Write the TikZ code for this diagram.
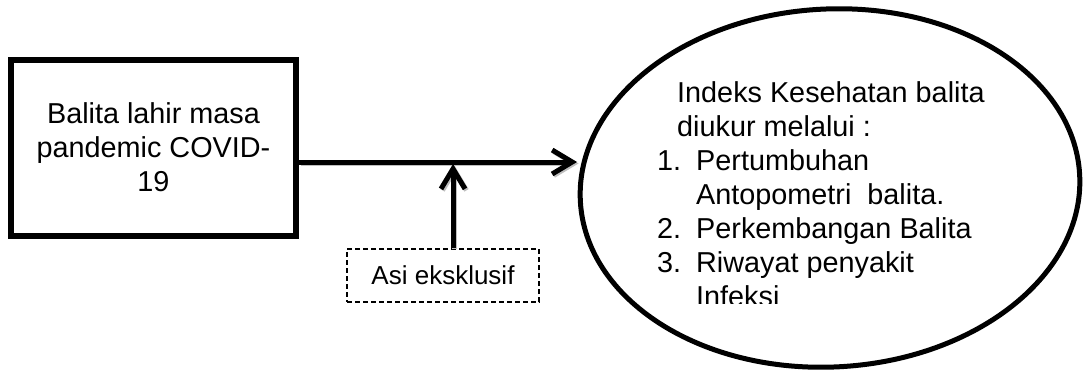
\documentclass[tikz,border=0pt]{standalone}
\usepackage{fontspec}
\setmainfont{Liberation Sans}
\usetikzlibrary{shapes.geometric,arrows.meta}
\begin{document}
\begin{tikzpicture}[x=1pt,y=1pt,
  mainbox/.style={draw, line width=6pt, minimum width=285pt, minimum height=176pt, inner sep=0pt},
  dashbox/.style={draw, line width=2.2pt, dash pattern=on 5pt off 3pt, minimum width=192pt, minimum height=53pt, inner sep=0pt},
  bigell/.style={ellipse, draw, line width=5pt, minimum width=500pt, minimum height=358pt, inner sep=0pt, rotate=3},
  bigtext/.style={font=\fontsize{28.8}{34}\selectfont, inner sep=0pt},
  smalltext/.style={font=\fontsize{26}{30}\selectfont, inner sep=0pt},
  arr/.style={line width=5pt, -{Straight Barb[length=20pt,width=24pt]}},
  arrshadow/.style={line width=5pt, draw=black!25, -{Straight Barb[length=20pt,width=24pt]}}
]
\useasboundingbox (0,0) rectangle (1083,370);

\node[mainbox] (box) at (153.5,222) {};
\node[bigtext, align=center, anchor=north] (boxtxt) at (153.5,268)
  {Balita lahir masa\\pandemic COVID-\\19};

\node[dashbox] (dbox) at (443,94.5) {};
\node[smalltext] (dtxt) at (dbox.center) {Asi eksklusif};

\node[bigell] (ell) at (830,182) {};
\begin{scope}
  \clip (600,67) rectangle (1083,370);
  \node[bigtext, align=left, anchor=north west] (elltxt) at (657,289)
    {\hspace*{20pt}Indeks Kesehatan balita\\
     \hspace*{20pt}diukur melalui :\\
     \makebox[39pt][l]{1.}Pertumbuhan\\
     \hspace*{39pt}Antopometri\ \ balita.\\
     \makebox[39pt][l]{2.}Perkembangan Balita\\
     \makebox[39pt][l]{3.}Riwayat penyakit\\
     \hspace*{39pt}Infeksi};
\end{scope}

\coordinate (junc) at (453,208);
\coordinate (tipE) at (577,208);
\draw[arrshadow, transform canvas={shift={(1.5pt,-1.5pt)}}] (box.east |- junc) -- (tipE);
\draw[arrshadow, transform canvas={shift={(1.5pt,-1.5pt)}}] (dbox.north -| junc) -- ([yshift=-2pt]junc);
\draw[arr] (box.east |- junc) -- (tipE);
\draw[arr] (dbox.north -| junc) -- ([yshift=-2pt]junc);
\end{tikzpicture}
\end{document}
